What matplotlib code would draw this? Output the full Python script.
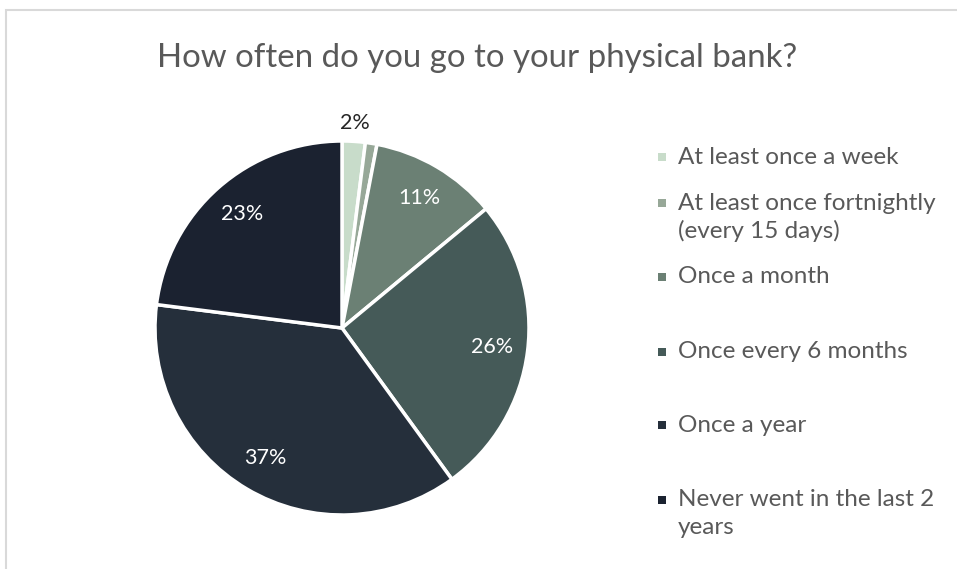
import numpy as np
import matplotlib.pyplot as plt
from matplotlib.patches import Rectangle

plt.rcParams['font.family'] = ['Lato', 'DejaVu Sans']

categories = ['At least once a week',
              'At least once fortnightly\n(every 15 days)',
              'Once a month',
              'Once every 6 months',
              'Once a year',
              'Never went in the last 2\nyears']
shares = [2, 1, 11, 26, 37, 23]
shown = [True, False, True, True, True, True]
colors = ['#c8dcca', '#97a898', '#6b8074', '#455a58', '#252f3b', '#1b2230']
title = 'How often do you go to your physical bank?'

fig = plt.figure(figsize=(9.57, 5.69), dpi=100)

# chart frame (only top and left edges fall inside the image)
fig.patches.append(Rectangle((6 / 957, -0.1), 1.2, (569 - 10) / 569 + 0.1,
                             transform=fig.transFigure, fill=False,
                             edgecolor='#d9d9d9', linewidth=1.5))

fig.text(477 / 957, 1 - 58 / 569, title, ha='center', va='center',
         fontsize=23.8, color='#595959')

ax = fig.add_axes([155 / 957, (569 - 515) / 569, 374 / 957, 374 / 569])
wedges, _ = ax.pie(shares, colors=colors, startangle=90, counterclock=False,
                   wedgeprops=dict(edgecolor='white', linewidth=2.5))
ax.set_xlim(-1, 1)
ax.set_ylim(-1, 1)
ax.set_aspect('equal')

for w, v, show in zip(wedges, shares, shown):
    if not show:
        continue
    mid = np.deg2rad((w.theta1 + w.theta2) / 2)
    if v < 5:
        r, col = 1.1, '#262626'
    else:
        r, col = 0.81, 'white'
    ax.text(r * np.cos(mid), r * np.sin(mid), f'{v}%', ha='center',
            va='center', fontsize=15.5, color=col)

# legend entries
legend_y = [157, 203, 277, 352, 425, 500]
line_h = 28
for c, lab, y in zip(colors, categories, legend_y):
    yf = 1 - y / 569
    fig.patches.append(Rectangle((658 / 957, yf - 4 / 569), 8 / 957, 8 / 569,
                                 transform=fig.transFigure, facecolor=c,
                                 edgecolor='none'))
    for i, part in enumerate(lab.split('\n')):
        fig.text(678 / 957, yf - i * line_h / 569, part, ha='left',
                 va='center', fontsize=17.5, color='#595959')

fig.savefig('out.png', dpi=100)
